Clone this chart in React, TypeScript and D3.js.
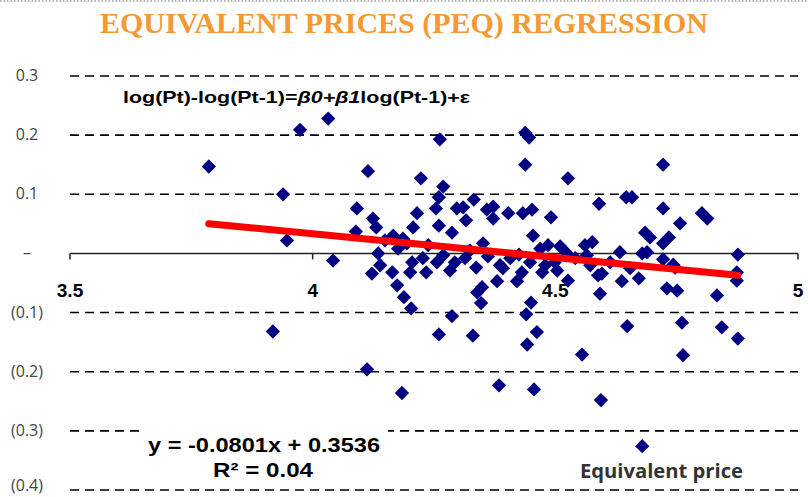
import React from "react";
import * as d3 from "d3";

const xValues: number[] = [
  3.786, 3.939, 3.974, 4.032, 3.947, 3.918, 4.042, 4.114, 4.112, 4.184,
  4.262, 4.223, 4.269, 4.260, 4.254, 4.215, 4.091, 4.124, 4.131, 4.089,
  4.207, 4.166, 4.186, 4.194, 4.238, 4.260, 4.135, 4.139, 4.122, 4.164,
  4.201, 4.234, 4.227, 4.256, 4.269, 4.174, 4.188, 4.203, 4.287, 4.260,
  4.438, 4.446, 4.438, 4.526, 4.332, 4.297, 4.310, 4.316, 4.359, 4.372,
  4.372, 4.403, 4.433, 4.452, 4.491, 4.454, 4.351, 4.425, 4.469, 4.485,
  4.524, 4.561, 4.576, 4.590, 4.722, 4.646, 4.658, 4.722, 4.757, 4.802,
  4.813, 4.685, 4.695, 4.734, 4.722, 4.633, 4.679, 4.689, 4.722, 4.876,
  4.743, 4.283, 4.337, 4.386, 4.392, 4.431, 4.421, 4.380, 4.473, 4.504,
  4.526, 4.588, 4.349, 4.339, 4.347, 4.450, 4.440, 4.330, 4.462, 4.442,
  4.555, 4.384, 4.456, 4.594, 4.596, 4.637, 4.672, 4.747, 4.874, 4.874,
  4.730, 4.751, 4.592, 4.833, 4.648, 4.761, 4.843, 4.876, 4.763, 4.679,
  4.499, 4.541, 4.510, 4.565, 4.293, 4.314, 4.361, 4.407, 4.448, 4.479,
  4.176, 4.149, 4.287, 4.324, 4.613, 4.654, 4.572, 4.205,
];

const yValues: number[] = [
  0.147, 0.100, 0.209, 0.228, 0.022, -0.132, -0.012, 0.139, -0.196, -0.236,
  0.193, 0.127, 0.113, 0.095, 0.076, 0.068, 0.076, 0.059, 0.044, 0.037,
  0.044, 0.030, 0.025, 0.017, 0.014, 0.047, 0.000, -0.020, -0.034, -0.032,
  -0.032, -0.032, -0.008, -0.015, -0.003, -0.054, -0.074, -0.093, -0.106, -0.137,
  0.204, 0.196, 0.150, 0.127, 0.091, 0.076, 0.078, 0.056, 0.074, 0.079,
  0.059, 0.068, 0.068, 0.074, 0.061, 0.030, 0.017, -0.002, 0.008, 0.014,
  0.000, 0.014, 0.019, 0.084, 0.150, 0.095, 0.095, 0.076, 0.051, 0.068,
  0.059, 0.035, 0.027, 0.027, 0.017, 0.002, 0.000, 0.002, -0.010, -0.002,
  -0.019, -0.029, -0.024, -0.020, -0.025, -0.032, -0.047, -0.047, -0.032, -0.029,
  -0.046, -0.037, -0.057, -0.066, -0.084, -0.083, -0.103, -0.139, -0.133, -0.154,
  -0.171, -0.223, -0.230, -0.248, -0.034, -0.047, -0.042, -0.024, -0.032, -0.046,
  -0.059, -0.063, -0.068, -0.071, -0.123, -0.117, -0.125, -0.144, -0.172, -0.326,
  -0.015, -0.008, 0.012, -0.003, -0.015, -0.008, -0.005, -0.008, -0.015, -0.020,
  0.008, 0.022, 0.035, 0.005, -0.015, -0.025, -0.020, -0.015,
];

const xTicks: number[] = [3.5, 4, 4.5, 5];
const xTickLabels: string[] = ["3.5", "4", "4.5", "5"];
const yTicks: number[] = [0.3, 0.2, 0.1, 0, -0.1, -0.2, -0.3, -0.4];
const yTickLabels: string[] = ["0.3", "0.2", "0.1", "–", "(0.1)", "(0.2)", "(0.3)", "(0.4)"];

const SLOPE = -0.0801;
const INTERCEPT = 0.3536;
const TITLE = "EQUIVALENT PRICES (PEQ) REGRESSION";
const EQ_TEXT = "y = -0.0801x + 0.3536";
const R2_TEXT = "R² = 0.04";
const SERIES_NAME = "Equivalent price";

export default function App() {
  const W = 808;
  const H = 497;
  const x = d3.scaleLinear().domain([3.5, 5]).range([70, 798]);
  const y = d3.scaleLinear().domain([-0.4, 0.3]).range([490, 76]);
  const diamond = d3.symbol().type(d3.symbolDiamond2).size(130)();
  const [xMin, xMax] = d3.extent(xValues) as [number, number];
  const linePath = d3.line<number>()
    .x((d) => x(d))
    .y((d) => y(SLOPE * d + INTERCEPT))([xMin, xMax]);
  const points = xValues.map((v, i) => [v, yValues[i]] as [number, number]);
  const y0 = y(0);

  return (
    <svg
      width={W}
      height={H}
      style={{ position: "absolute", left: 0, top: 0, background: "#fff" }}
    >
      <rect x={0} y={0} width={W} height={H} fill="#fff" />
      <line x1={0} x2={W} y1={1} y2={1} stroke="#9a9a9a" strokeWidth={1.5} strokeDasharray="1.5,2" />
      <text
        x={404}
        y={33}
        textAnchor="middle"
        fontFamily="'Liberation Serif', 'DejaVu Serif', serif"
        fontSize={29}
        fontWeight="bold"
        fill="#F39A35"
        textLength={608}
        lengthAdjust="spacingAndGlyphs"
      >
        {TITLE}
      </text>

      {/* gridlines */}
      {yTicks.filter((t) => t !== 0).map((t) => (
        <line
          key={"g" + t}
          x1={70}
          x2={798}
          y1={y(t)}
          y2={y(t)}
          stroke="#000"
          strokeWidth={1.6}
          strokeDasharray="9,6"
        />
      ))}

      {/* y labels */}
      {yTicks.map((t, i) => (
        <text
          key={"yl" + t}
          x={27}
          y={Math.min(y(t) + 5, H - 6)}
          textAnchor="middle"
          fontFamily="'Open Sans', 'Noto Sans', sans-serif"
          fontSize={16}
          fill="#444"
        >
          {yTickLabels[i]}
        </text>
      ))}

      {/* x axis */}
      <line x1={70} x2={798} y1={y0} y2={y0} stroke="#222" strokeWidth={1.5} />
      {xTicks.map((t, i) => (
        <g key={"xt" + t}>
          <line x1={x(t)} x2={x(t)} y1={y0} y2={y0 + 6} stroke="#222" strokeWidth={1.5} />
          <text
            x={x(t)}
            y={y0 + 44}
            textAnchor="middle"
            fontFamily="'Liberation Sans', Arial, sans-serif"
            fontSize={19}
            fontWeight="bold"
            fill="#000"
          >
            {xTickLabels[i]}
          </text>
        </g>
      ))}

      {/* formula */}
      <text
        x={123}
        y={103}
        fontFamily="'Liberation Sans', Arial, sans-serif"
        fontSize={16.5}
        fontWeight="bold"
        fill="#000"
        textLength={347}
        lengthAdjust="spacingAndGlyphs"
      >
        log(Pt)-log(Pt-1)=<tspan fontStyle="italic">β0+β1</tspan>log(Pt-1)+ε
      </text>

      {/* points */}
      {points.map((p, i) => (
        <path
          key={"p" + i}
          d={diamond as string}
          transform={`translate(${x(p[0])},${y(p[1])})`}
          fill="#000080"
        />
      ))}

      {/* regression line */}
      <path d={linePath as string} stroke="#FF0000" strokeWidth={7} strokeLinecap="round" fill="none" />

      {/* equation label box */}
      <rect x={145} y={425} width={243} height={60} fill="#fff" />
      <text
        x={148}
        y={452}
        fontFamily="'Liberation Sans Narrow', 'Liberation Sans', Arial, sans-serif"
        fontSize={20}
        fontWeight="bold"
        fill="#000"
        textLength={232}
        lengthAdjust="spacingAndGlyphs"
      >
        {EQ_TEXT}
      </text>
      <text
        x={213}
        y={477}
        fontFamily="'Liberation Sans Narrow', 'Liberation Sans', Arial, sans-serif"
        fontSize={20}
        fontWeight="bold"
        fill="#000"
        textLength={100}
        lengthAdjust="spacingAndGlyphs"
      >
        {R2_TEXT}
      </text>

      {/* series label */}
      <text
        x={580}
        y={478}
        fontFamily="'Open Sans', 'Noto Sans', sans-serif"
        fontSize={20}
        fontWeight={700}
        fill="#333"
        textLength={163}
        lengthAdjust="spacingAndGlyphs"
      >
        {SERIES_NAME}
      </text>
    </svg>
  );
}
